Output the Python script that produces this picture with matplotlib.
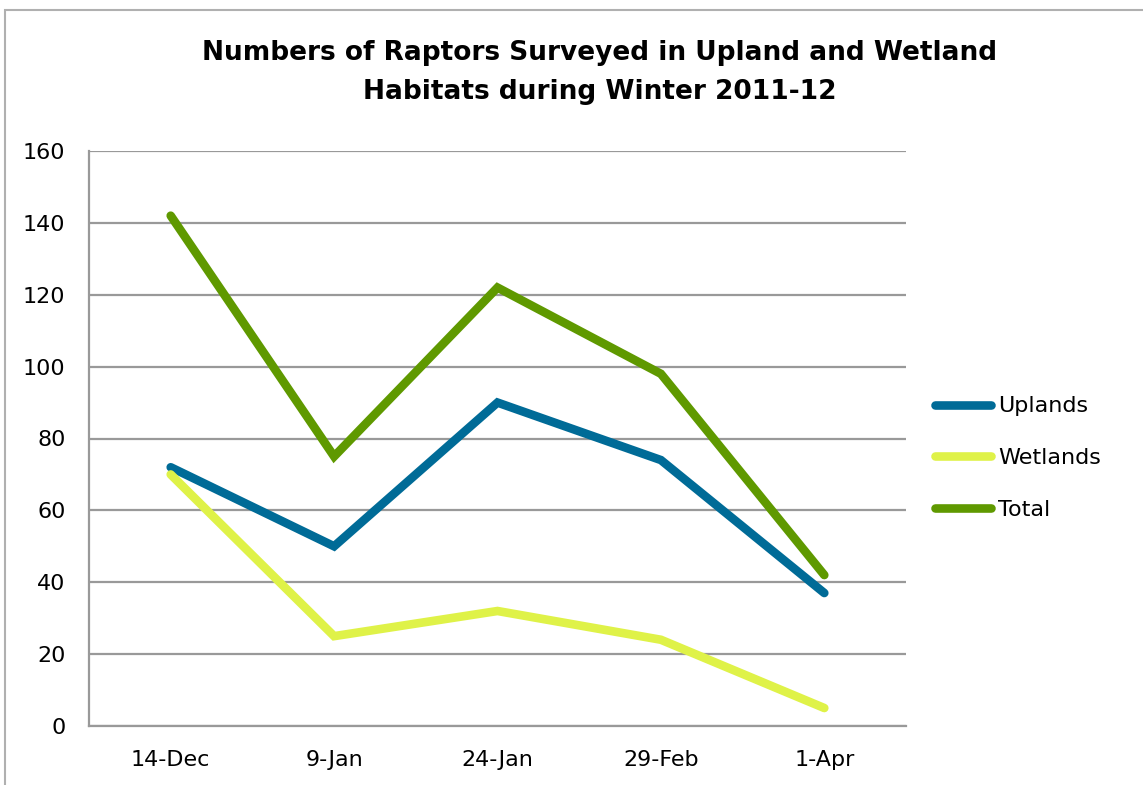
import matplotlib
matplotlib.use("Agg")
import matplotlib.pyplot as plt
from matplotlib.patches import Rectangle

# survey data
dates = ["14-Dec", "9-Jan", "24-Jan", "29-Feb", "1-Apr"]
uplands = [72, 50, 90, 74, 37]
wetlands = [70, 25, 32, 24, 5]
total = [142, 75, 122, 98, 42]

plt.rcParams['font.family'] = ['DejaVu Sans']

fig = plt.figure(figsize=(11.43, 7.85), dpi=100)
ax = fig.add_axes([89/1143, 1-726/785, (906-89)/1143, (726-151)/785])

# outer chart border
fig.patches.append(Rectangle((5/1143, -0.1), 1.2, 1 - 10/785 + 0.1, transform=fig.transFigure,
                             fill=False, edgecolor='#b0b0b0', linewidth=1.5))

x = range(len(dates))
ax.plot(x, uplands, color='#006B97', linewidth=6.2, solid_capstyle='round', solid_joinstyle='miter', label='Uplands', zorder=3)
ax.plot(x, wetlands, color='#DFF248', linewidth=6.2, solid_capstyle='round', solid_joinstyle='miter', label='Wetlands', zorder=3)
ax.plot(x, total, color='#5F9900', linewidth=6.2, solid_capstyle='round', solid_joinstyle='miter', label='Total', zorder=3)

ax.set_xlim(-0.5, 4.5)
ax.set_ylim(0, 160)
ax.set_yticks(range(0, 161, 20))
ax.set_xticks(list(x))
ax.set_xticklabels(dates)
ax.yaxis.grid(True, color='#999999', linewidth=1.6)
ax.set_axisbelow(True)
for s in ['top', 'right']:
    ax.spines[s].set_visible(False)
ax.spines['left'].set_color('#999999')
ax.spines['bottom'].set_color('#999999')
ax.spines['left'].set_linewidth(1.6)
ax.spines['bottom'].set_linewidth(1.6)
ax.tick_params(length=0, labelsize=16, colors='black')
ax.tick_params(axis='y', pad=17)
ax.tick_params(axis='x', pad=17)

fig.text(600/1143, 1-72.5/785, "Numbers of Raptors Surveyed in Upland and Wetland\nHabitats during Winter 2011-12",
         ha='center', va='center', fontsize=19, fontweight='bold', linespacing=1.62)

ax.legend(loc='center left', bbox_to_anchor=(1.022, 0.466), frameon=False, fontsize=16,
          handlelength=2.5, handletextpad=0.35, labelspacing=1.42, borderpad=0)

fig.savefig("out.png", dpi=100)
